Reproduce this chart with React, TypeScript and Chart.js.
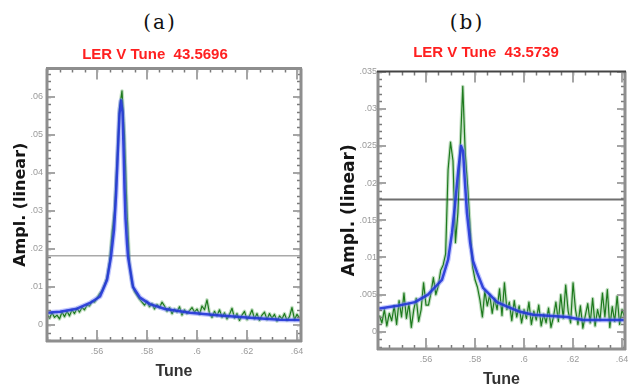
import React, { useEffect, useRef } from 'react';
import { Chart, registerables } from 'chart.js';

Chart.register(...registerables);

// ---------- Panel (a) ----------
const A_TITLE = 'LER V Tune  43.5696';
const A_X_MIN = 0.54;
const A_X_MAX = 0.6416;
const A_Y_MIN = -0.0042;
const A_Y_MAX = 0.0674;
const A_X_START = 0.54;
const A_X_STEP = 0.001;
const A_GREEN = [
  0.0028, 0.0018, 0.0032, 0.0020, 0.0026, 0.0016, 0.0034, 0.0022, 0.0036, 0.0024,
  0.0040, 0.0030, 0.0044, 0.0034, 0.0046, 0.0040, 0.0052, 0.0050, 0.0062, 0.0060,
  0.0070, 0.0082, 0.0090, 0.0105, 0.0125, 0.0165, 0.0240, 0.0300, 0.0430, 0.0570,
  0.0615, 0.0500, 0.0300, 0.0160, 0.0110, 0.0088, 0.0078, 0.0068, 0.0060, 0.0052,
  0.0062, 0.0048, 0.0056, 0.0042, 0.0054, 0.0046, 0.0060, 0.0050, 0.0036, 0.0046,
  0.0030, 0.0042, 0.0034, 0.0048, 0.0026, 0.0040, 0.0030, 0.0038, 0.0046, 0.0034,
  0.0042, 0.0028, 0.0050, 0.0040, 0.0066, 0.0030, 0.0020, 0.0036, 0.0024, 0.0040,
  0.0020, 0.0032, 0.0016, 0.0028, 0.0044, 0.0018, 0.0030, 0.0012, 0.0026, 0.0036,
  0.0014, 0.0024, 0.0040, 0.0016, 0.0030, 0.0012, 0.0026, 0.0034, 0.0014, 0.0030,
  0.0018, 0.0028, 0.0010, 0.0024, 0.0016, 0.0030, 0.0012, 0.0022, 0.0046, 0.0014,
  0.0028, 0.0018,
];
const A_FIT_X = [
  0.540, 0.5452, 0.552, 0.5572, 0.5612, 0.5640, 0.5656, 0.5668, 0.5676, 0.5684,
  0.5690, 0.5696, 0.5702, 0.5706, 0.5710, 0.5714, 0.5720, 0.5724, 0.5744, 0.5772,
  0.5812, 0.5872, 0.5972, 0.6092, 0.6212, 0.6332, 0.6416,
];
const A_FIT_Y = [
  0.0032, 0.0035, 0.0043, 0.0058, 0.0075, 0.0118, 0.0180, 0.0250, 0.0340, 0.0465,
  0.0555, 0.0590, 0.0560, 0.0470, 0.0360, 0.0280, 0.0215, 0.0180, 0.0100, 0.0072,
  0.0055, 0.0042, 0.0032, 0.0025, 0.0019, 0.0014, 0.0013,
];
const A_LEVEL = 0.0182;
const A_X_TICKS = [0.56, 0.58, 0.6, 0.62, 0.64];
const A_X_LABELS = ['.56', '.58', '.6', '.62', '.64'];
const A_Y_TICKS = [0, 0.01, 0.02, 0.03, 0.04, 0.05, 0.06];
const A_Y_LABELS = ['0', '.01', '.02', '.03', '.04', '.05', '.06'];

// ---------- Panel (b) ----------
const B_TITLE = 'LER V Tune  43.5739';
const B_X_MIN = 0.5404;
const B_X_MAX = 0.6412;
const B_Y_MIN = -0.0023;
const B_Y_MAX = 0.035;
const B_X_START = 0.541;
const B_X_STEP = 0.001;
const B_GREEN = [
  0.0022, 0.0012, 0.0030, 0.0008, 0.0025, 0.0015, 0.0035, 0.0010, 0.0042, 0.0020,
  0.0052, 0.0018, 0.0038, 0.0006, 0.0030, 0.0045, 0.0014, 0.0030, 0.0066, 0.0036,
  0.0036, 0.0052, 0.0073, 0.0050, 0.0062, 0.0083, 0.0090, 0.0105, 0.0218, 0.0255,
  0.0230, 0.0120, 0.0160, 0.0250, 0.0330, 0.0240, 0.0195, 0.0140, 0.0088, 0.0070,
  0.0060, 0.0043, 0.0020, 0.0055, 0.0035, 0.0050, 0.0025, 0.0045, 0.0030, 0.0058,
  0.0022, 0.0066, 0.0030, 0.0040, 0.0015, 0.0042, 0.0020, 0.0035, 0.0012, 0.0030,
  0.0018, 0.0040, 0.0010, 0.0028, 0.0016, 0.0036, 0.0008, 0.0024, 0.0012, 0.0032,
  0.0006, 0.0020, 0.0040, 0.0014, 0.0050, 0.0018, 0.0063, 0.0028, 0.0012, 0.0066,
  0.0030, 0.0010, 0.0035, 0.0005, 0.0022, 0.0038, 0.0012, 0.0045, 0.0008, 0.0030,
  0.0016, 0.0052, 0.0020, 0.0057, 0.0006, 0.0034, 0.0014, 0.0048, 0.0010, 0.0030,
  0.0020,
];
const B_FIT_X = [
  0.5404, 0.5482, 0.5555, 0.5608, 0.5645, 0.5665, 0.5690, 0.5706, 0.5718, 0.5731,
  0.5743, 0.5751, 0.5759, 0.5767, 0.5780, 0.5792, 0.5808, 0.5833, 0.5890, 0.5931,
  0.5984, 0.6037, 0.6176, 0.6241, 0.6412,
];
const B_FIT_Y = [
  0.0031, 0.0035, 0.0040, 0.0050, 0.0063, 0.0070, 0.0097, 0.0133, 0.0170, 0.0215,
  0.0250, 0.0243, 0.0200, 0.0160, 0.0120, 0.0095, 0.0080, 0.0059, 0.0040, 0.0034,
  0.0027, 0.0023, 0.0020, 0.0016, 0.0016,
];
const B_LEVEL = 0.0178;
const B_X_TICKS = [0.56, 0.58, 0.6, 0.62, 0.64];
const B_X_LABELS = ['.56', '.58', '.6', '.62', '.64'];
const B_Y_TICKS = [0, 0.005, 0.01, 0.015, 0.02, 0.025, 0.03, 0.035];
const B_Y_LABELS = ['0', '.005', '.01', '.015', '.02', '.025', '.03', '.035'];

const SANS = '"Liberation Sans", Arial, sans-serif';

const labelFor = (ticks: number[], labels: string[], v: number) => {
  const i = ticks.findIndex((t) => Math.abs(t - v) < 1e-9);
  return i >= 0 ? labels[i] : '';
};

const framePlugin = {
  id: 'frame',
  afterDatasetsDraw(chart: any, _args: any, o: any) {
    const { ctx, chartArea } = chart;
    const { left, right, top, bottom } = chartArea;
    const xs = chart.scales.x;
    const ys = chart.scales.y;
    const seg = (x1: number, y1: number, x2: number, y2: number) => {
      ctx.beginPath();
      ctx.moveTo(x1, y1);
      ctx.lineTo(x2, y2);
      ctx.stroke();
    };
    ctx.save();
    ctx.lineCap = 'butt';
    ctx.strokeStyle = o.minorColor;
    ctx.lineWidth = 1.5;
    for (let k = Math.ceil(xs.min / o.xMinor - 1e-6); k * o.xMinor <= xs.max + 1e-9; k++) {
      const p = Math.round(xs.getPixelForValue(k * o.xMinor)) + 0.5;
      seg(p, bottom, p, bottom - o.minorLen);
      seg(p, top, p, top + o.minorLen);
    }
    for (let k = Math.ceil(ys.min / o.yMinor - 1e-6); k * o.yMinor <= ys.max + 1e-9; k++) {
      const p = Math.round(ys.getPixelForValue(k * o.yMinor)) + 0.5;
      seg(left, p, left + o.minorLen, p);
      seg(right, p, right - o.minorLen, p);
    }
    ctx.strokeStyle = o.majorColor;
    ctx.lineWidth = 2;
    o.xMajor.forEach((v: number) => {
      const p = Math.round(xs.getPixelForValue(v));
      seg(p, bottom, p, bottom - o.xMajorLen);
      seg(p, top, p, top + o.xMajorLen);
    });
    o.yMajor.forEach((v: number) => {
      const p = Math.round(ys.getPixelForValue(v));
      seg(left, p, left + o.yMajorLen, p);
      seg(right, p, right - o.yMajorLen, p);
    });
    ctx.lineWidth = o.borderWidth;
    ctx.strokeStyle = o.borderColor;
    seg(left, top, left, bottom + 1);
    seg(right, top, right, bottom + 1);
    seg(left - 1, bottom, right + 1, bottom);
    ctx.strokeStyle = o.topColor;
    ctx.lineWidth = o.topWidth;
    seg(left - 1, top, right + 1, top);
    ctx.restore();
  },
};

type PanelCfg = {
  left: number; width: number; title: string; titleTop: number; titleBottom: number;
  xMin: number; xMax: number; yMin: number; yMax: number; xStart: number; xStep: number;
  green: number[]; fitX: number[]; fitY: number[]; level: number; levelColor: string; levelWidth: number;
  xTicks: number[]; xLabels: string[]; yTicks: number[]; yLabels: string[];
  xAxisH: number; yAxisW: number; rightW: number; xTitlePad: number; yTitlePad: number;
  yTitleSize: number; yTickPad: number; yMinor: number; topColor: string; topWidth: number;
};

const A_CFG: PanelCfg = {
  left: 0, width: 310, title: A_TITLE, titleTop: 45.5, titleBottom: 5,
  xMin: A_X_MIN, xMax: A_X_MAX, yMin: A_Y_MIN, yMax: A_Y_MAX,
  xStart: A_X_START, xStep: A_X_STEP, green: A_GREEN, fitX: A_FIT_X, fitY: A_FIT_Y,
  level: A_LEVEL, levelColor: '#a9a9a9', levelWidth: 1.5,
  xTicks: A_X_TICKS, xLabels: A_X_LABELS, yTicks: A_Y_TICKS, yLabels: A_Y_LABELS,
  xAxisH: 47, yAxisW: 47, rightW: 9, xTitlePad: 8.5, yTitlePad: 11.4, yTitleSize: 16, yTickPad: 4,
  yMinor: 0.002, topColor: '#8e8e8e', topWidth: 3,
};

const B_CFG: PanelCfg = {
  left: 337, width: 298, title: B_TITLE, titleTop: 43.5, titleBottom: 10,
  xMin: B_X_MIN, xMax: B_X_MAX, yMin: B_Y_MIN, yMax: B_Y_MAX,
  xStart: B_X_START, xStep: B_X_STEP, green: B_GREEN, fitX: B_FIT_X, fitY: B_FIT_Y,
  level: B_LEVEL, levelColor: '#6f6f6f', levelWidth: 2,
  xTicks: B_X_TICKS, xLabels: B_X_LABELS, yTicks: B_Y_TICKS, yLabels: B_Y_LABELS,
  xAxisH: 39, yAxisW: 41, rightW: 10, xTitlePad: 0, yTitlePad: 2, yTitleSize: 17, yTickPad: 1,
  yMinor: 0.001, topColor: '#444', topWidth: 2,
};

function buildConfig(p: PanelCfg): any {
  const green = p.green.map((y, i) => ({ x: p.xStart + i * p.xStep, y }));
  const fit = p.fitX.map((x, i) => ({ x, y: p.fitY[i] }));
  const levelLine = [{ x: p.xMin, y: p.level }, { x: p.xMax, y: p.level }];
  const ds = (data: any[], color: string, width: number) => ({
    data, borderColor: color, borderWidth: width, pointRadius: 0, fill: false,
    tension: 0, xAxisID: 'x', yAxisID: 'y', borderJoinStyle: 'round',
  });
  return {
    type: 'line',
    data: {
      datasets: [
        ds(fit, 'rgba(35,55,215,0.9)', 2.5),
        ds(fit, 'rgba(120,130,255,0.45)', 5),
        ds(green, 'rgba(0,105,0,0.85)', 1.2),
        ds(green, 'rgba(80,160,80,0.35)', 3.5),
        ds(levelLine, p.levelColor, p.levelWidth),
      ],
    },
    options: {
      responsive: false,
      animation: false,
      events: [],
      layout: { padding: 0 },
      plugins: {
        legend: { display: false },
        tooltip: { enabled: false },
        title: {
          display: true,
          text: p.title,
          color: '#ff2020',
          font: { family: SANS, size: 15, weight: 'bold', lineHeight: 1.2 },
          padding: { top: p.titleTop, bottom: p.titleBottom },
        },
        frame: {
          xMinor: 0.005, yMinor: p.yMinor, xMajor: p.xTicks, yMajor: p.yTicks,
          minorLen: 4, xMajorLen: 11, yMajorLen: 8,
          minorColor: '#7a7a7a', majorColor: '#a5a5a5',
          borderColor: '#8e8e8e', borderWidth: 3, topColor: p.topColor, topWidth: p.topWidth,
        },
      },
      scales: {
        x: {
          type: 'linear', position: 'bottom', min: p.xMin, max: p.xMax,
          afterBuildTicks: (s: any) => { s.ticks = p.xTicks.map((v) => ({ value: v })); },
          afterFit: (s: any) => { s.height = p.xAxisH; },
          grid: { display: false, drawTicks: false },
          border: { display: false },
          ticks: {
            autoSkip: false, maxRotation: 0, minRotation: 0, padding: 5, color: '#9a9a9a',
            font: { family: SANS, size: 9 },
            callback: (v: number) => labelFor(p.xTicks, p.xLabels, v),
          },
          title: {
            display: true, text: 'Tune', color: '#333',
            font: { family: SANS, size: 16, weight: 'bold', lineHeight: 1 },
            padding: { top: 0, bottom: p.xTitlePad },
          },
        },
        y: {
          type: 'linear', position: 'left', min: p.yMin, max: p.yMax,
          afterBuildTicks: (s: any) => { s.ticks = p.yTicks.map((v) => ({ value: v })); },
          afterFit: (s: any) => { s.width = p.yAxisW; },
          grid: { display: false, drawTicks: false },
          border: { display: false },
          ticks: {
            autoSkip: false, padding: p.yTickPad, color: '#9a9a9a',
            font: { family: SANS, size: 9 },
            callback: (v: number) => labelFor(p.yTicks, p.yLabels, v),
          },
          title: {
            display: true, text: 'Ampl. (linear)', color: '#151515',
            font: { family: '"DejaVu Sans", sans-serif', size: p.yTitleSize, weight: 'bold', lineHeight: 1.2 },
            padding: { top: p.yTitlePad, bottom: 0 },
          },
        },
        yr: {
          type: 'linear', position: 'right', display: true,
          afterFit: (s: any) => { s.width = p.rightW; },
          grid: { display: false, drawTicks: false },
          border: { display: false },
          ticks: { display: false },
        },
      },
    },
    plugins: [framePlugin],
  };
}

function Panel({ cfg }: { cfg: PanelCfg }) {
  const ref = useRef<HTMLCanvasElement>(null);
  useEffect(() => {
    const chart = new Chart(ref.current as HTMLCanvasElement, buildConfig(cfg));
    return () => chart.destroy();
  }, [cfg]);
  return (
    <canvas
      ref={ref}
      width={cfg.width}
      height={388}
      style={{ position: 'absolute', left: cfg.left, top: 0, width: cfg.width, height: 388 }}
    />
  );
}

const labelStyle = (cx: number): React.CSSProperties => ({
  position: 'absolute',
  left: cx - 40,
  width: 80,
  top: 10,
  lineHeight: '24px',
  textAlign: 'center',
  fontFamily: '"DejaVu Serif", "Liberation Serif", serif',
  fontSize: 20,
  letterSpacing: 2,
  color: '#111',
});

export default function App() {
  return (
    <div style={{ position: 'fixed', left: 0, top: 0, width: 635, height: 388, background: '#fff', overflow: 'hidden' }}>
      <div style={labelStyle(160)}>(a)</div>
      <div style={labelStyle(467)}>(b)</div>
      <Panel cfg={A_CFG} />
      <Panel cfg={B_CFG} />
    </div>
  );
}
